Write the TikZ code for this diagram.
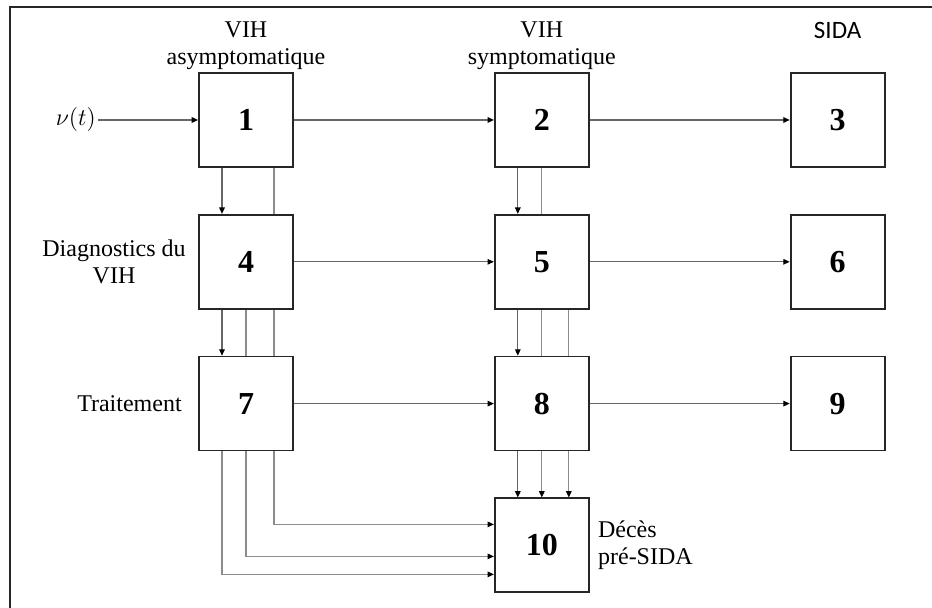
\documentclass[tikz,border=0pt]{standalone}
\usepackage{fontspec}
\setmainfont{Liberation Serif}
\newfontfamily\sidafont{Carlito}
\usetikzlibrary{positioning, arrows.meta, backgrounds}

\begin{document}
\begin{tikzpicture}[
    node distance=23pt and 100pt,
    box/.style={draw=black!85, line width=0.9pt, fill=white, minimum width=47pt, minimum height=47pt, inner sep=0pt, font=\fontsize{16}{18}\selectfont\bfseries},
    lbl/.style={align=center, inner sep=1pt, font=\fontsize{12}{13.5}\selectfont},
    arr/.style={draw=black!60, line width=0.6pt, -{Triangle[length=3.2pt, width=2.8pt, color=black]}},
    thru/.style={arr, draw=black!45}
  ]
  \useasboundingbox (0,0) rectangle (466pt,-304pt);
  % frame
  \draw[line width=1.1pt, black!85] (5pt,-304pt) -- (5pt,-3.5pt) -- (466pt,-3.5pt);

  % Boxes
  \node[box] (b1) at (123pt,-60pt) {1};
  \node[box, right=of b1] (b2) {2};
  \node[box, right=of b2] (b3) {3};
  \node[box, below=of b1] (b4) {4};
  \node[box, right=of b4] (b5) {5};
  \node[box, right=of b5] (b6) {6};
  \node[box, below=of b4] (b7) {7};
  \node[box, right=of b7] (b8) {8};
  \node[box, right=of b8] (b9) {9};
  \node[box, below=of b8] (b10) {10};

  % Labels
  \node[lbl, above=0pt of b1] (hasym) {VIH\\asymptomatique};
  \node[lbl, above=0pt of b2] (hsym) {VIH\\symptomatique};
  \node[lbl, anchor=north, font=\sidafont\fontsize{12.5}{14}\selectfont] (hsida) at (b3.center |- hasym.north) {SIDA};
  \node[lbl, left=5pt of b4] (hdiag) {Diagnostics du\\VIH};
  \node[lbl, left=7pt of b7] (htrait) {Traitement};
  \node[lbl, right=3pt of b10, align=left] (hdeces) {Décès\\pré-SIDA};
  \node[lbl, left=50pt of b1] (nu) {$\nu(t)$};

  % Edges
  \draw[arr] (nu) -- (b1);
  \draw[arr] (b1) -- (b2);
  \draw[arr] (b2) -- (b3);
  \draw[arr] (b4) -- (b5);
  \draw[arr] (b5) -- (b6);
  \draw[arr] (b7) -- (b8);
  \draw[arr] (b8) -- (b9);
  \draw[arr] ([xshift=-12pt]b1.south) -- ([xshift=-12pt]b4.north);
  \draw[arr] ([xshift=-12pt]b4.south) -- ([xshift=-12pt]b7.north);
  \draw[arr] ([xshift=-12pt]b2.south) -- ([xshift=-12pt]b5.north);
  \draw[arr] ([xshift=-12pt]b5.south) -- ([xshift=-12pt]b8.north);
  \draw[arr] ([xshift=-12pt]b8.south) -- ([xshift=-12pt]b10.north);

  % Deaths (behind the boxes)
  \begin{scope}[on background layer]
    \draw[thru] ([xshift=14pt]b1.south) |- ([yshift=10.5pt]b10.west);
    \draw[thru] (b4.south) |- ([yshift=-5.5pt]b10.west);
    \draw[thru] ([xshift=-12pt]b7.south) |- ([yshift=-14.5pt]b10.west);
    \draw[thru] (b2.south) -- (b10.north);
    \draw[thru] ([xshift=13.5pt]b5.south) -- ([xshift=13.5pt]b10.north);
  \end{scope}
\end{tikzpicture}
\end{document}
